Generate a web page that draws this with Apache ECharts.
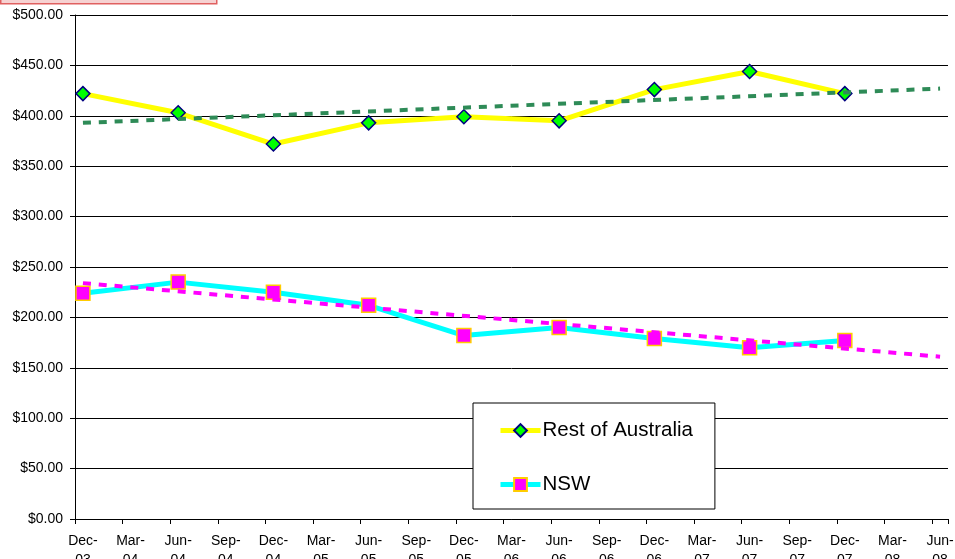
<!DOCTYPE html>
<html>
<head>
<meta charset="utf-8">
<script src="https://cdn.jsdelivr.net/npm/echarts@6/dist/echarts.min.js"></script>
<style>html,body{margin:0;padding:0;background:#fff}#c{width:955px;height:559px}</style>
</head>
<body>
<div id="c"></div>
<script>
// Monthly categories (ticks every quarter)
const months = ['Dec-03','Jan-04','Feb-04','Mar-04','Apr-04','May-04','Jun-04','Jul-04','Aug-04','Sep-04','Oct-04','Nov-04',
  'Dec-04','Jan-05','Feb-05','Mar-05','Apr-05','May-05','Jun-05','Jul-05','Aug-05','Sep-05','Oct-05','Nov-05',
  'Dec-05','Jan-06','Feb-06','Mar-06','Apr-06','May-06','Jun-06','Jul-06','Aug-06','Sep-06','Oct-06','Nov-06',
  'Dec-06','Jan-07','Feb-07','Mar-07','Apr-07','May-07','Jun-07','Jul-07','Aug-07','Sep-07','Oct-07','Nov-07',
  'Dec-07','Jan-08','Feb-08','Mar-08','Apr-08','May-08','Jun-08'];
const yTicks = [0, 50, 100, 150, 200, 250, 300, 350, 400, 450, 500];

const obsDates = ['Dec-03','Jun-04','Dec-04','Jun-05','Dec-05','Jun-06','Dec-06','Jun-07','Dec-07'];
const restOfAustralia = [422, 403, 372, 393, 399, 395, 426, 444, 422];
const nsw = [224, 235, 225, 212, 182, 190, 179, 170, 177];

const trendDates = ['Dec-03', 'Jun-08'];
const restTrend = [393, 427];
const nswTrend = [234, 161];

const pairs = (d, v) => d.map((x, i) => [x, v[i]]);
const font = 'Liberation Sans, Arial, sans-serif';

const chart = echarts.init(document.getElementById('c'), null, {renderer: 'canvas'});
chart.setOption({
  animation: false,
  backgroundColor: '#ffffff',
  grid: {left: 75, right: 7, top: 15, bottom: 40, containLabel: false, outerBoundsMode: 'none'},
  graphic: [{
    type: 'rect', left: 0, top: -10,
    shape: {x: 0, y: -10, width: 216, height: 13},
    style: {fill: '#f6d2d2', stroke: '#e06060', lineWidth: 1.5},
    z: 100
  }],
  legend: {
    data: ['Rest of Australia', 'NSW'],
    orient: 'vertical',
    left: 473, top: 403,
    padding: [17, 22, 14, 25],
    itemGap: 33,
    itemWidth: 40,
    itemHeight: 16,
    backgroundColor: '#ffffff',
    borderColor: '#000000',
    borderWidth: 1,
    borderRadius: 0,
    lineStyle: {width: 5},
    textStyle: {fontFamily: font, fontSize: 20.5, color: '#000', lineHeight: 20, padding: [0, 0, 0, -3]}
  },
  xAxis: {
    type: 'category',
    data: months,
    boundaryGap: true,
    axisLine: {lineStyle: {color: '#000', width: 1}},
    axisTick: {show: true, interval: 2, length: 5, lineStyle: {color: '#000'}},
    axisLabel: {
      interval: 2, margin: 13, color: '#000', fontFamily: font, fontSize: 14, lineHeight: 19,
      formatter: v => v.replace('-', '-\n')
    },
    splitLine: {show: false}
  },
  yAxis: {
    type: 'value',
    min: yTicks[0], max: yTicks[yTicks.length - 1], interval: 50,
    axisLine: {show: true, lineStyle: {color: '#000', width: 1}},
    axisTick: {show: true, length: 5, lineStyle: {color: '#000'}},
    axisLabel: {margin: 12, color: '#000', fontFamily: font, fontSize: 14,
      formatter: v => '$' + v.toFixed(2)},
    splitLine: {show: true, lineStyle: {color: '#000', width: 1}}
  },
  series: [
    {
      name: 'Rest of Australia', type: 'line',
      data: pairs(obsDates, restOfAustralia),
      symbol: 'diamond', symbolSize: 14,
      lineStyle: {color: '#ffff00', width: 5},
      itemStyle: {color: '#00ff00', borderColor: '#000080', borderWidth: 1.5},
      z: 3
    },
    {
      name: 'NSW', type: 'line',
      data: pairs(obsDates, nsw),
      symbol: 'rect', symbolSize: 14,
      lineStyle: {color: '#00ffff', width: 5},
      itemStyle: {color: '#ff00ff', borderColor: '#ffcc00', borderWidth: 1.5},
      z: 3
    },
    {
      name: 'Rest trend', type: 'line',
      data: pairs(trendDates, restTrend),
      symbol: 'none', silent: true,
      lineStyle: {color: '#2e8b57', width: 4, type: [8, 7.85]},
      z: 5
    },
    {
      name: 'NSW trend', type: 'line',
      data: pairs(trendDates, nswTrend),
      symbol: 'none', silent: true,
      lineStyle: {color: '#ff00ff', width: 4, type: [8, 7.85]},
      z: 5
    }
  ]
});
</script>
</body>
</html>
